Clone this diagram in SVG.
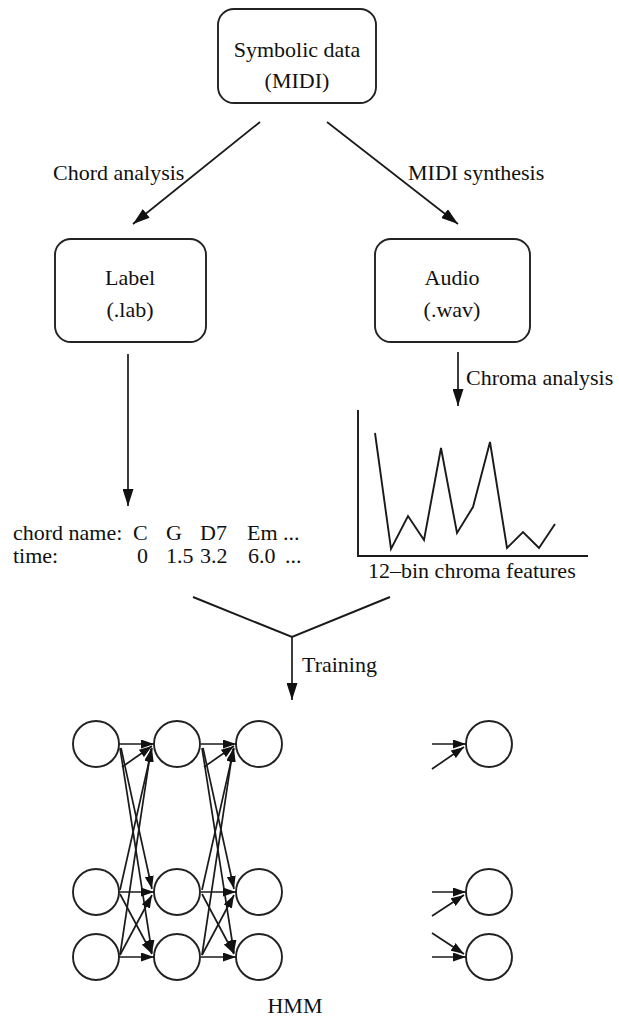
<svg xmlns="http://www.w3.org/2000/svg" width="619" height="1019" viewBox="0 0 619 1019">
<style>
text{font-family:"Liberation Serif","Times New Roman",serif;font-size:22px;fill:#111}
.c{text-anchor:middle}
.box{fill:#fff;stroke:#222;stroke-width:1.9}
.ln{stroke:#1a1a1a;stroke-width:1.9;fill:none}
.ar{stroke:#1a1a1a;stroke-width:1.7;fill:none;marker-end:url(#big)}
.ha{stroke:#1a1a1a;stroke-width:1.7;fill:none;marker-end:url(#sm)}
.st{fill:#fff;stroke:#222;stroke-width:1.9}
</style>
<defs>
<marker id="big" markerUnits="userSpaceOnUse" markerWidth="17" markerHeight="11" refX="17" refY="5.5" orient="auto"><path d="M0,0 L17,5.5 L0,11 z" fill="#111"/></marker>
<marker id="sm" markerUnits="userSpaceOnUse" markerWidth="13" markerHeight="9" refX="13" refY="4.5" orient="auto"><path d="M0,0 L13,4.5 L0,9 z" fill="#111"/></marker>
</defs>
<rect width="619" height="1019" fill="#fff"/>
<g id="symbolic">
<rect class="box" x="218" y="9" width="158" height="94" rx="16"/>
<text class="c" x="297" y="57">Symbolic data</text>
<text class="c" x="297" y="88">(MIDI)</text>
</g>
<g id="label">
<rect class="box" x="55" y="239" width="151" height="103" rx="16"/>
<text class="c" x="130" y="285">Label</text>
<text class="c" x="130" y="317">(.lab)</text>
</g>
<g id="audio">
<rect class="box" x="375" y="239" width="155" height="103" rx="16"/>
<text class="c" x="452" y="285">Audio</text>
<text class="c" x="452" y="317">(.wav)</text>
</g>
<g id="chords">
<text x="13" y="540">chord name:</text>
<text x="133" y="540">C</text>
<text x="166" y="540">G</text>
<text x="200" y="540">D7</text>
<text x="247" y="540">Em</text>
<text x="283" y="540">...</text>
<text x="13" y="563">time:</text>
<text x="137" y="563">0</text>
<text x="166" y="563">1.5</text>
<text x="200" y="563">3.2</text>
<text x="248" y="563">6.0</text>
<text x="285" y="563">...</text>
</g>
<g id="chroma">
<path class="ln" d="M358,410 L358,556 L588,556"/>
<polyline class="ln" points="375,433 391,549 408,516 424,540 441,448 457,533 473,507 490,442 507,548 523,532 539,548 555,524"/>
<text x="368" y="578">12–bin chroma features</text>
</g>
<g id="hmm">
<circle class="st" cx="96" cy="744" r="23"/>
<circle class="st" cx="96" cy="892" r="23"/>
<circle class="st" cx="96" cy="957" r="23"/>
<circle class="st" cx="177" cy="744" r="23"/>
<circle class="st" cx="177" cy="892" r="23"/>
<circle class="st" cx="177" cy="957" r="23"/>
<circle class="st" cx="259" cy="744" r="23"/>
<circle class="st" cx="259" cy="892" r="23"/>
<circle class="st" cx="259" cy="957" r="23"/>
<circle class="st" cx="489" cy="744" r="23"/>
<circle class="st" cx="489" cy="892" r="23"/>
<circle class="st" cx="489" cy="957" r="23"/>
<text class="c" x="295" y="1013">HMM</text>
</g>
<g id="connectors">
<line class="ar" x1="260" y1="122" x2="133" y2="224"/>
<line class="ar" x1="327" y1="122" x2="458" y2="224"/>
<text x="53" y="180">Chord analysis</text>
<text x="408" y="180">MIDI synthesis</text>
<line class="ar" x1="128" y1="354" x2="128" y2="506"/>
<line class="ar" x1="458" y1="352" x2="458" y2="406"/>
<text x="466" y="385">Chroma analysis</text>
<path class="ln" d="M193,597 L292,637 L390,597"/>
<line class="ar" x1="292" y1="637" x2="292" y2="700"/>
<text x="302" y="672">Training</text>
<g id="trans1">
<line class="ha" x1="119" y1="744" x2="154" y2="744"/>
<line class="ha" x1="121" y1="748" x2="152" y2="889"/>
<line class="ha" x1="120" y1="748" x2="152" y2="953"/>
<line class="ha" x1="120" y1="890" x2="152" y2="748"/>
<line class="ha" x1="120" y1="955" x2="151" y2="749"/>
<line class="ha" x1="122" y1="767" x2="152" y2="746"/>
<line class="ha" x1="119" y1="892" x2="154" y2="892"/>
<line class="ha" x1="120" y1="894" x2="152" y2="954"/>
<line class="ha" x1="120" y1="955" x2="152" y2="895"/>
<line class="ha" x1="119" y1="957" x2="154" y2="957"/>
</g>
<use href="#trans1" transform="translate(82,0)"/>
<line class="ha" x1="432" y1="744" x2="466" y2="744"/>
<line class="ha" x1="432" y1="769" x2="464" y2="747"/>
<line class="ha" x1="432" y1="892" x2="466" y2="892"/>
<line class="ha" x1="432" y1="916" x2="464" y2="895"/>
<line class="ha" x1="432" y1="933" x2="464" y2="954"/>
<line class="ha" x1="432" y1="957" x2="466" y2="957"/>
</g>
</svg>
